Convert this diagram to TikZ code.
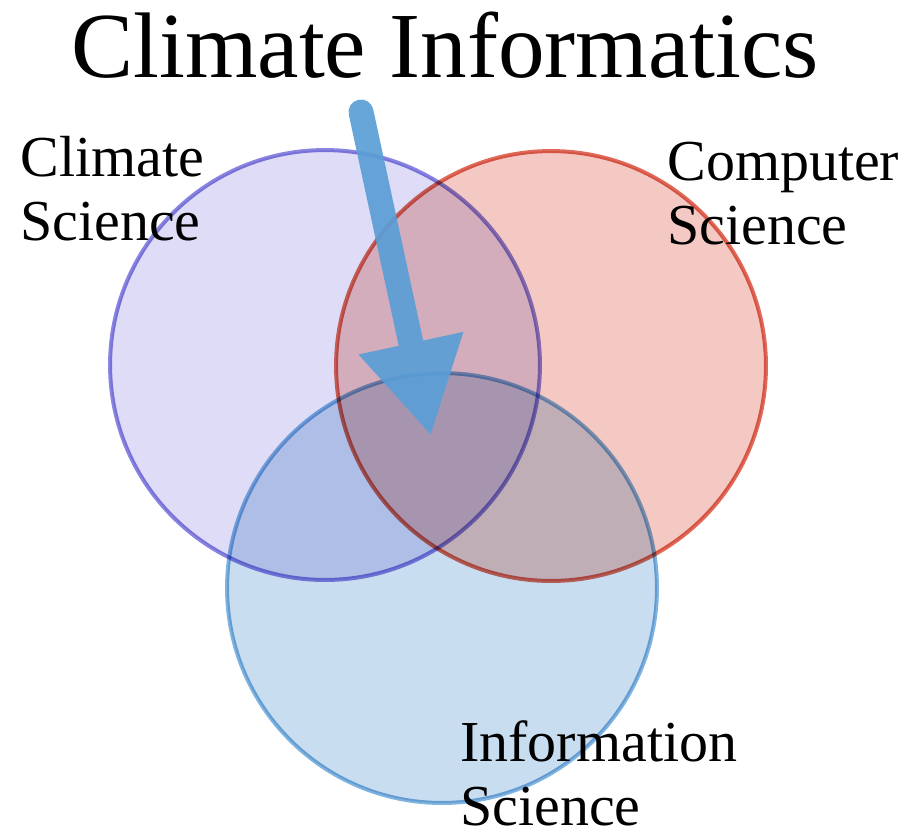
\documentclass[tikz,border=0pt]{standalone}
\usepackage{fontspec}
\setmainfont{Liberation Serif}
\usetikzlibrary{arrows.meta}

\definecolor{climfill}{HTML}{DEDCF6}
\definecolor{climline}{HTML}{8A85E0}
\definecolor{compfill}{HTML}{F4C9C3}
\definecolor{compline}{HTML}{E06A5A}
\definecolor{infofill}{HTML}{C9DDF0}
\definecolor{infoline}{HTML}{80B4E0}
\definecolor{arrowblue}{HTML}{5A9ED6}

\begin{document}
\begin{tikzpicture}[x=0.02cm, y=-0.02cm,
  set/.style={circle, draw, line width=0.08cm, minimum size=8.6cm, inner sep=0},
  label/.style={inner sep=0, align=left, anchor=base west, font=\fontsize{33}{36}\selectfont}]

  \useasboundingbox (0,0) rectangle (908,833);

  % the three fields
  \begin{scope}[blend mode=multiply]
    \node[set, draw=climline, fill=climfill] (clim) at (325,365) {};
    \node[set, draw=compline, fill=compfill] (comp) at (551,366) {};
    \node[set, draw=infoline, fill=infofill] (info) at (442,588) {};
  \end{scope}

  % labels (anchored on the baseline of the second line)
  \node[inner sep=0, anchor=base, font=\fontsize{53}{60}\selectfont] (title) at (445,77) {Climate Informatics};
  \node[label] (climlab) at (20,240) {Climate\\Science};
  \node[label] (complab) at (667,244) {Computer\\Science};
  \node[label] (infolab) at (460,825) {Information\\Science};

  % arrow into the middle
  \coordinate (tail) at (361,112);
  \coordinate (tip) at (431,436);
  \begin{scope}[transparency group, opacity=0.92]
    \draw[arrowblue, line width=0.5cm, line cap=round,
      -{Triangle[width=2cm, length=1.9cm]}] (tail) -- (tip);
  \end{scope}

\end{tikzpicture}
\end{document}
